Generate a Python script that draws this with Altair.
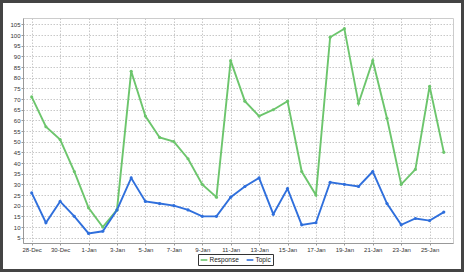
import altair as alt
import pandas as pd

dates = ["2012-12-28", "2012-12-29", "2012-12-30", "2012-12-31", "2013-01-01",
         "2013-01-02", "2013-01-03", "2013-01-04", "2013-01-05", "2013-01-06",
         "2013-01-07", "2013-01-08", "2013-01-09", "2013-01-10", "2013-01-11",
         "2013-01-12", "2013-01-13", "2013-01-14", "2013-01-15", "2013-01-16",
         "2013-01-17", "2013-01-18", "2013-01-19", "2013-01-20", "2013-01-21",
         "2013-01-22", "2013-01-23", "2013-01-24", "2013-01-25", "2013-01-26"]
response = [71, 57, 51, 36, 19, 10, 18, 83, 62, 52, 50, 42, 30, 24, 88,
            69, 62, 65, 69, 36, 25, 99, 103, 68, 88, 61, 30, 37, 76, 45]
topic = [26, 12, 22, 15, 7, 8, 18, 33, 22, 21, 20, 18, 15, 15, 24,
         29, 33, 16, 28, 11, 12, 31, 30, 29, 36, 21, 11, 14, 13, 17]
series_names = ["Response", "Topic"]
series_colors = ["#6cc56c", "#2f6fdc"]
tick_days = [(2012, 12, 28), (2012, 12, 30), (2013, 1, 1), (2013, 1, 3), (2013, 1, 5),
             (2013, 1, 7), (2013, 1, 9), (2013, 1, 11), (2013, 1, 13), (2013, 1, 15),
             (2013, 1, 17), (2013, 1, 19), (2013, 1, 21), (2013, 1, 23), (2013, 1, 25)]
y_ticks = list(range(5, 110, 5))

rows = []
for d, r, t in zip(dates, response, topic):
    rows.append({"date": d + "T00:00:00", "series": "Response", "value": r})
    rows.append({"date": d + "T00:00:00", "series": "Topic", "value": t})
df = pd.DataFrame(rows)

x_enc = alt.X(
    "date:T",
    scale=alt.Scale(domain=[alt.DateTime(year=2012, month=12, date=27, hours=9, minutes=18),
                            alt.DateTime(year=2013, month=1, date=26, hours=15, minutes=30)]),
    axis=alt.Axis(values=[alt.DateTime(year=y, month=m, date=dd) for y, m, dd in tick_days],
                  format="%-d-%b", title=None, labelAngle=0, tickSize=2,
                  labelPadding=1, grid=True),
)
y_enc = alt.Y(
    "value:Q",
    scale=alt.Scale(domain=[2.5, 108], nice=False, zero=False),
    axis=alt.Axis(values=y_ticks, title=None, tickSize=2, labelPadding=1, grid=True),
)
color_enc = alt.Color(
    "series:N",
    scale=alt.Scale(domain=series_names, range=series_colors),
    legend=alt.Legend(title=None, orient="none", legendX=175, legendY=236,
                      direction="horizontal", symbolType="stroke", symbolSize=45,
                      symbolStrokeWidth=1.6, labelFontSize=6.5, labelFont="Liberation Sans",
                      labelColor="#222", strokeColor="#333", padding=1.5,
                      columnPadding=3, labelOffset=1),
)

lines = alt.Chart(df).mark_line(strokeWidth=1.9, point=alt.OverlayMarkDef(filled=True, size=10)).encode(
    x=x_enc, y=y_enc, color=color_enc, detail="series:N"
)

frame = alt.Chart(alt.Data(values=[{}])).mark_rect(
    fill=None, stroke="#444444", strokeWidth=6
).encode(x=alt.value(-23), x2=alt.value(441), y=alt.value(-18), y2=alt.value(254))

chart = alt.layer(lines, frame).properties(
    width=430, height=225,
    autosize=alt.AutoSizeParams(type="none"),
    padding={"left": 23, "top": 18, "right": 11, "bottom": 29},
    background="white",
).configure_view(
    stroke="#cccccc", strokeWidth=1
).configure_axis(
    labelFont="Liberation Sans", labelFontSize=6, labelColor="#333",
    domainColor="#999999", tickColor="#999999",
    gridColor="#c8c8c8", gridDash=[1.5, 1.5], gridWidth=1,
)

chart.save("out.html", embed_options={"renderer": "svg", "actions": False})
